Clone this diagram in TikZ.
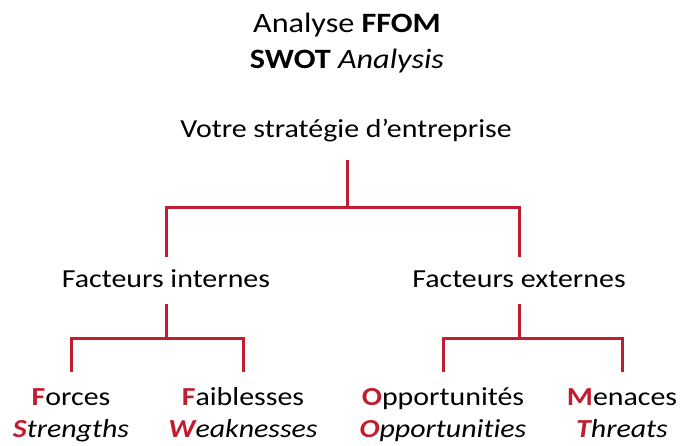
\documentclass[tikz,border=0pt]{standalone}
\usepackage{fontspec}
\setmainfont{Carlito}[FakeStretch=1.15, Ligatures=NoCommon]
\definecolor{ffomred}{RGB}{192,30,48}
\newcommand{\ini}[1]{\textbf{\color{ffomred}#1}}
\tikzset{
  branch/.style={draw=ffomred, line width=3pt},
  lbl/.style={anchor=base, inner sep=0pt, font=\fontsize{26}{30}\selectfont},
  ttl/.style={anchor=base, inner sep=0pt, font=\fontsize{28}{34}\selectfont}
}
\begin{document}
\begin{tikzpicture}[x=1pt,y=1pt]
   \useasboundingbox (0,0) rectangle (680,-446);
   % Title
   \node[ttl] (ffom) at (347,-33) {Analyse \textbf{FFOM}};
   \node[ttl] (swot) at (347,-69) {\textbf{SWOT} \textit{Analysis}};
   % Tree of labels
   \node[lbl] (strat) at (346,-138) {Votre stratégie d’entreprise};
   \node[lbl] (int) at (166,-288) {Facteurs internes};
   \node[lbl] (ext) at (519,-288) {Facteurs externes};
   \node[lbl] (forces) at (71,-405) {\ini{F}orces};
   \node[lbl] (strengths) at (71,-437) {\textit{\ini{S}trengths}};
   \node[lbl] (faibl) at (243,-405) {\ini{F}aiblesses};
   \node[lbl] (weak) at (243,-437) {\textit{\ini{W}eaknesses}};
   \node[lbl] (oppfr) at (443,-405) {\ini{O}pportunités};
   \node[lbl] (oppen) at (443,-437) {\textit{\ini{O}pportunities}};
   \node[lbl] (men) at (622,-405) {\ini{M}enaces};
   \node[lbl] (threats) at (622,-437) {\textit{\ini{T}hreats}};
   % Branches
   \coordinate (j0) at (347,-208);
   \coordinate (j1) at (166,-338);
   \coordinate (j2) at (519,-338);
   \draw[branch] ([yshift=-22pt]strat.base -| j0) -- (j0);
   \draw[branch] (j0) -| ([yshift=31pt]int.base);
   \draw[branch] (j0) -| ([yshift=31pt]ext.base);
   \draw[branch] ([yshift=-16pt]int.base) -- (j1);
   \draw[branch] (j1) -| ([yshift=33pt]forces.base);
   \draw[branch] (j1) -| ([yshift=33pt]faibl.base);
   \draw[branch] ([yshift=-16pt]ext.base) -- (j2);
   \draw[branch] (j2) -| ([yshift=33pt]oppfr.base);
   \draw[branch] (j2) -| ([yshift=33pt]men.base);
\end{tikzpicture}
\end{document}
